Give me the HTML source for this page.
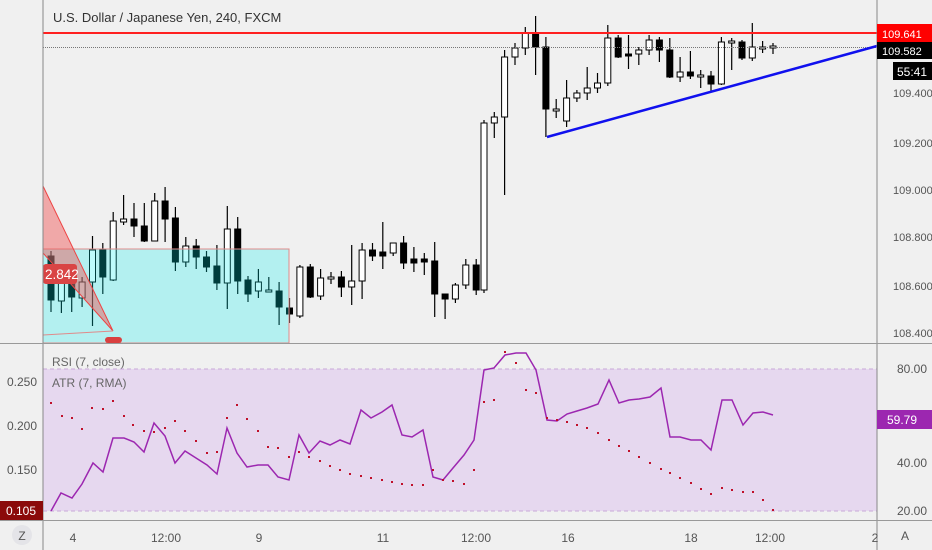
<!DOCTYPE html>
<html><head><meta charset="utf-8"><style>
html,body{margin:0;padding:0;background:#f0f0f0;}
svg{display:block;font-family:"Liberation Sans",sans-serif;}
</style></head><body>
<svg id="s" width="932" height="550" viewBox="0 0 932 550" xmlns="http://www.w3.org/2000/svg">
<rect width="932" height="550" fill="#f0f0f0"/>
<rect x="43" y="369" width="834" height="142" fill="#e6d8ef"/>
<line x1="43" y1="369" x2="877" y2="369" stroke="#c9a9d9" stroke-dasharray="4,3"/>
<line x1="43" y1="511" x2="877" y2="511" stroke="#c9a9d9" stroke-dasharray="4,3"/>
<g id="candles"></g>
<rect x="43" y="249" width="246" height="94" fill="rgba(0,240,240,0.254)" stroke="#e08a8a" stroke-width="1"/>
<polygon points="43,186 113,331 43,253" fill="rgba(240,80,80,0.45)" stroke="#ee4444" stroke-width="1"/>
<line x1="43" y1="335" x2="113" y2="331" stroke="#e08a8a" stroke-width="1"/>
<rect x="105" y="337" width="17" height="6" rx="3" fill="#d94040"/>
<rect x="43" y="264" width="34" height="20" rx="3" fill="#d94444"/>
<text x="45" y="279" font-size="13.5" fill="#fff">2.842</text>
<line x1="43" y1="33" x2="877" y2="33" stroke="#ff2020" stroke-width="2"/>
<line x1="43" y1="47.5" x2="877" y2="47.5" stroke="#777" stroke-dasharray="1,1"/>
<line x1="547" y1="137" x2="877" y2="46" stroke="#1010ee" stroke-width="2.5"/>
<g id="ind"></g>
<line x1="43" y1="0" x2="43" y2="550" stroke="#888"/>
<line x1="877" y1="0" x2="877" y2="550" stroke="#888"/>
<line x1="0" y1="343.5" x2="932" y2="343.5" stroke="#999"/>
<line x1="0" y1="520.5" x2="932" y2="520.5" stroke="#999"/>
<text x="53" y="22" font-size="13" fill="#333">U.S. Dollar / Japanese Yen, 240, FXCM</text>
<text x="52" y="366" font-size="12" fill="#666">RSI (7, close)</text>
<text x="52" y="387" font-size="12" fill="#666">ATR (7, RMA)</text>
<g font-size="11" fill="#555">
<text x="893" y="97">109.400</text><text x="893" y="147">109.200</text><text x="893" y="194">109.000</text>
<text x="893" y="241">108.800</text><text x="893" y="290">108.600</text><text x="893" y="337">108.400</text>
</g>
<g font-size="12" fill="#555">
<text x="897" y="373">80.00</text><text x="897" y="467">40.00</text><text x="897" y="515">20.00</text>
<text x="7" y="386">0.250</text><text x="7" y="430">0.200</text><text x="7" y="474">0.150</text>
<text x="73" y="542" text-anchor="middle">4</text><text x="166" y="542" text-anchor="middle">12:00</text>
<text x="259" y="542" text-anchor="middle">9</text><text x="383" y="542" text-anchor="middle">11</text>
<text x="476" y="542" text-anchor="middle">12:00</text><text x="568" y="542" text-anchor="middle">16</text>
<text x="691" y="542" text-anchor="middle">18</text><text x="770" y="542" text-anchor="middle">12:00</text>
<text x="875" y="542" text-anchor="middle">2</text>
</g>
<circle cx="22" cy="535" r="10" fill="#e4e4e8"/><text x="22" y="540" font-size="12" fill="#555" text-anchor="middle">Z</text>
<text x="905" y="540" font-size="12" fill="#555" text-anchor="middle">A</text>
<rect x="877" y="24" width="55" height="18" fill="#ff0000"/><text x="882" y="38" font-size="11" fill="#fff">109.641</text>
<rect x="877" y="42" width="55" height="17" fill="#000"/><text x="882" y="55" font-size="11" fill="#fff">109.582</text>
<rect x="893" y="62" width="39" height="18" fill="#000"/><text x="897" y="76" font-size="12" fill="#fff">55:41</text>
<rect x="877" y="410" width="55" height="19" fill="#9c27b0"/><text x="887" y="424" font-size="12" fill="#fff">59.79</text>
<rect x="0" y="501" width="43" height="19" fill="#8b0a0a"/><text x="6" y="515" font-size="12" fill="#fff">0.105</text>
</svg>
<script>
var C=[[0,256,300,251,312],[1,301,283,280,313],[0,283,297,280,312],[1,298,282,277,307],[1,282,250,236,326],[0,250,277,243,294],[1,280,221,212,281],[1,222,219,195,225],[0,219,226,203,237],[0,226,241,203,242],[1,241,201,193,241],[0,201,219,187,242],[0,218,262,207,271],[1,262,246,237,267],[0,246,257,239,269],[0,257,267,251,272],[0,266,283,245,290],[1,283,229,206,309],[0,229,281,217,294],[0,280,294,276,302],[1,291,282,269,298],[1,291,290,277,292],[0,291,307,282,325],[0,308,314,298,323],[1,316,267,265,318],[0,267,297,264,298],[1,296,278,269,300],[1,279,277,272,284],[0,277,287,271,297],[1,287,281,245,305],[1,281,250,243,299],[0,250,256,243,261],[0,252,256,222,269],[1,253,243,243,256],[0,243,263,236,269],[0,259,263,247,272],[0,259,262,253,275],[0,261,294,242,317],[0,294,299,294,319],[1,299,285,283,303],[1,285,265,259,289],[0,265,290,259,295],[1,290,123,120,293],[1,123,117,112,138],[1,117,57,50,195],[1,57,48,43,65],[1,48,33,27,55],[0,33,47,16,75],[0,47,109,37,137],[1,111,109,99,118],[1,121,98,80,127],[1,98,93,90,102],[1,93,88,67,100],[1,88,83,73,93],[1,83,38,25,86],[0,38,57,35,58],[0,54,56,35,69],[1,54,50,47,65],[1,50,40,35,55],[0,40,50,37,62],[0,50,77,38,78],[1,77,72,57,82],[0,72,76,51,79],[1,76,75,70,88],[0,76,84,71,92],[1,84,42,37,85],[1,42,41,38,70],[0,42,58,40,60],[1,58,47,23,61],[1,48,47,41,53],[1,47,46,43,54]];
var s='';
C.forEach(function(c,i){var x=(i<42?51+10.37*i:484+10.32*(i-42)).toFixed(1);
var t=Math.min(c[1],c[2]),b=Math.max(c[1],c[2]);if(b-t<2)b=t+2;
s+='<line x1="'+x+'" y1="'+c[3]+'" x2="'+x+'" y2="'+c[4]+'" stroke="#000" stroke-width="1.2"/>';
s+='<rect x="'+(x-3)+'" y="'+t+'" width="6" height="'+(b-t)+'" fill="'+(c[0]?'#fff':'#000')+'" stroke="#000" stroke-width="1"/>';});
document.getElementById('candles').innerHTML=s;
var R=[[51,511],[61,493],[72,498],[82,484],[93,463],[103,472],[113,438],[124,438],[134,442],[144,452],[154,423],[165,436],[175,463],[185,451],[196,458],[207,465],[217,474],[227,428],[237,453],[247,467],[258,465],[268,465],[278,477],[289,480],[299,435],[309,453],[320,441],[330,445],[340,440],[350,444],[361,410],[371,418],[382,412],[392,405],[402,435],[412,437],[423,430],[433,477],[443,480],[453,468],[464,455],[474,440],[484,370],[494,368],[505,355],[516,353],[526,353],[536,370],[547,420],[557,421],[567,414],[577,411],[587,408],[598,404],[609,380],[619,403],[629,400],[639,399],[650,397],[661,388],[670,437],[680,437],[691,440],[701,440],[711,450],[722,400],[732,400],[743,425],[753,413],[763,412],[773,415]];
var A=[[51,403],[62,416],[72,418],[82,429],[92,408],[103,409],[113,401],[124,416],[133,425],[144,431],[154,432],[165,428],[175,421],[185,431],[196,441],[207,453],[217,452],[227,418],[237,405],[247,419],[258,431],[268,447],[278,448],[289,457],[299,452],[309,457],[320,461],[330,466],[340,470],[350,474],[361,476],[371,478],[382,480],[392,482],[402,484],[412,485],[423,485],[433,470],[443,480],[453,481],[464,484],[474,470],[484,402],[494,400],[505,352],[516,363],[526,390],[536,393],[547,418],[557,420],[567,422],[577,425],[587,428],[598,433],[609,440],[619,446],[629,451],[639,457],[650,463],[661,469],[670,473],[680,478],[691,483],[701,489],[711,494],[722,488],[732,490],[743,492],[753,492],[763,500],[773,510]];
var g='<polyline fill="none" stroke="#9c27b0" stroke-width="1.5" points="'+R.map(function(p){return p.join(',')}).join(' ')+'"/>';
A.forEach(function(p){g+='<rect x="'+(p[0]-1)+'" y="'+(p[1]-1)+'" width="2" height="2" fill="#c0102a"/>';});
document.getElementById('ind').innerHTML=g;
</script>
</body></html>
